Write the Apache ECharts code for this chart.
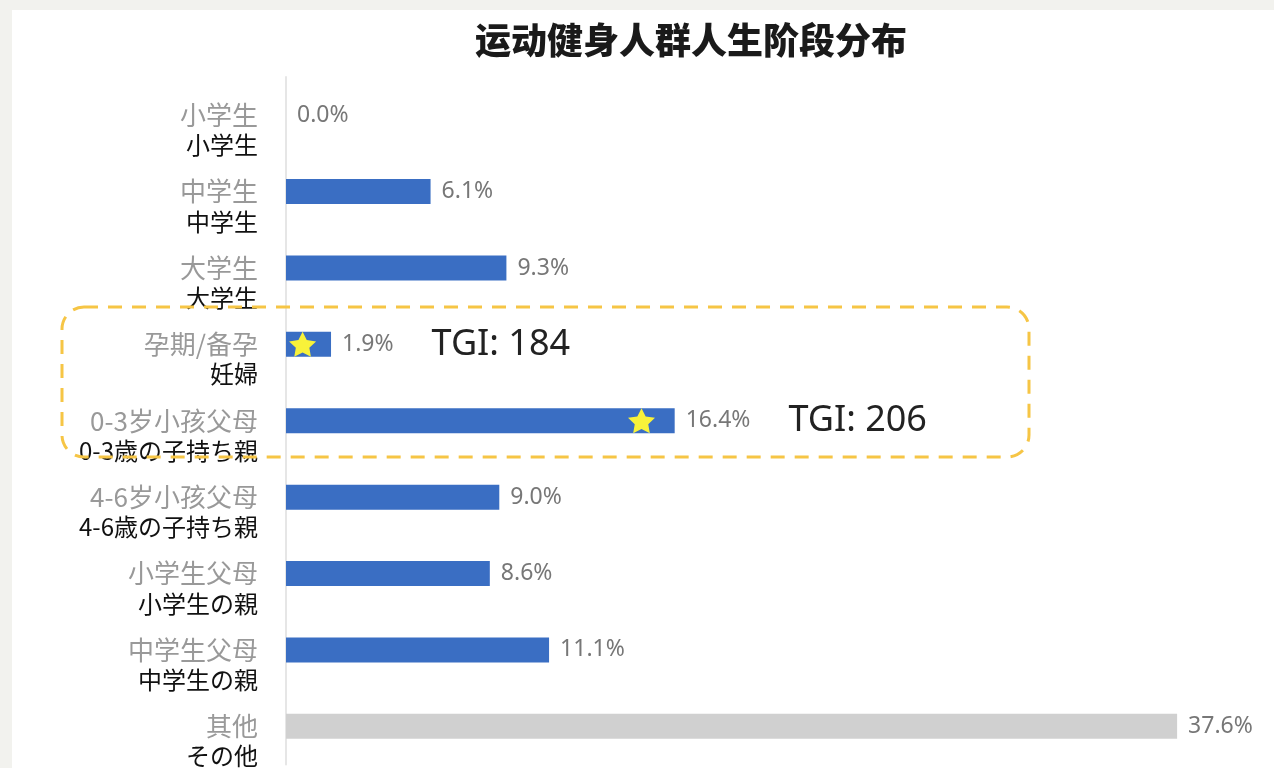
<!DOCTYPE html>
<html>
<head>
<meta charset="utf-8">
<script src="https://cdn.jsdelivr.net/npm/echarts@6/dist/echarts.min.js"></script>
<style>
	html,body{margin:0;padding:0;background:#f2f2ee;}
	#panel{position:absolute;left:12px;top:10px;right:0;bottom:0;background:#fff;}
	#main{position:absolute;left:0;top:0;width:1274px;height:768px;}
</style>
</head>
<body>
<div id="panel"></div>
<div id="main"></div>
<script>
// 类目（中文 / 日文）
var cnLabels=['小学生','中学生','大学生','孕期/备孕','0-3岁小孩父母','4-6岁小孩父母','小学生父母','中学生父母','其他'];
var jpLabels=['小学生','中学生','大学生','妊婦','0-3歳の子持ち親','4-6歳の子持ち親','小学生の親','中学生の親','その他'];
// 占比 %
var shareValues=[0.0,6.1,9.3,1.9,16.4,9.0,8.6,11.1,37.6];
// TGI
var tgiValues=[null,null,null,184,206,null,null,null,null];
// 星标所在位置（%）
var starValues=[null,null,null,0.7,15.0,null,null,null,null];

var starPath='path://M50,0 L64.7,29.8 L97.6,34.5 L73.8,57.7 L79.4,90.5 L50,75 L20.6,90.5 L26.2,57.7 L2.4,34.5 L35.3,29.8 Z';

var chart=echarts.init(document.getElementById('main'));
var option={
	backgroundColor:'transparent',
	animation:false,
	title:{
		text:'运动健身人群人生阶段分布',
		left:470,
		top:17,
		textStyle:{
			fontFamily:'Noto Sans CJK SC',
			fontSize:36,
			fontWeight:900,
			color:'#1a1a1a'
		}
	},
	grid:{
		left:286,
		right:40,
		top:77,
		height:693
	},
	xAxis:{
		type:'value',
		min:0,
		max:40,
		show:false
	},
	yAxis:{
		type:'category',
		inverse:true,
		data:cnLabels,
		axisTick:{show:false},
		axisLine:{show:true,lineStyle:{color:'#e6e6e6',width:2}},
		axisLabel:{
			margin:28,
			padding:[32,0,0,0],
			formatter:function(val,idx){
				return '{a|'+val+'}\n{b|'+jpLabels[idx]+'}';
			},
			rich:{
				a:{fontFamily:'Noto Sans CJK SC',fontSize:26,color:'#999',lineHeight:28,align:'right'},
				b:{fontFamily:'Noto Sans CJK JP',fontSize:24,color:'#111',lineHeight:32,align:'right'}
			}
		}
	},
	series:[
		{
			name:'占比',
			type:'bar',
			data:shareValues,
			barWidth:25,
			itemStyle:{
				color:function(p){
					return p.dataIndex===cnLabels.length-1?'#d0d0d0':'#3a6ec3';
				}
			},
			label:{
				show:true,
				position:'right',
				distance:11,
				formatter:function(p){
					var s='{v|'+p.value.toFixed(1)+'%}';
					if(tgiValues[p.dataIndex]!=null){
						s+='{t|TGI: '+tgiValues[p.dataIndex]+'}';
					}
					return s;
				},
				rich:{
					v:{fontFamily:'Noto Sans',fontSize:23,color:'#777'},
					t:{fontFamily:'Noto Sans',fontSize:36,color:'#222',padding:[0,0,0,38]}
				}
			}
		},
		{
			name:'星标',
			type:'scatter',
			data:starValues,
			symbol:starPath,
			symbolSize:[27,25],
			itemStyle:{color:'#f8f23a',opacity:1},
			z:5
		}
	],
	graphic:[
		{
			type:'rect',
			shape:{x:62,y:307,width:967,height:150,r:22},
			style:{fill:'none',stroke:'#f6c545',lineWidth:3,lineDash:[14,10]},
			z:10
		}
	]
};
chart.setOption(option);
</script>
</body>
</html>
